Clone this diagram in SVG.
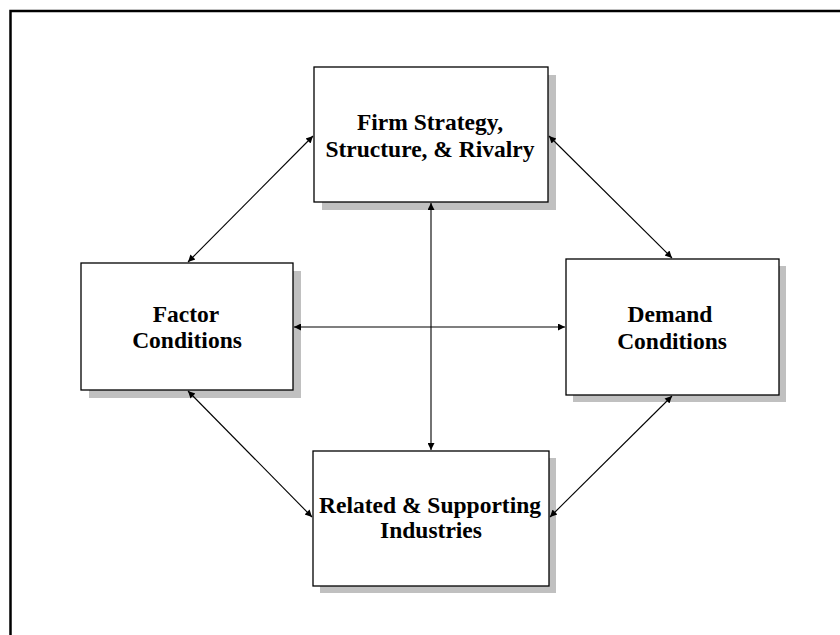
<svg xmlns="http://www.w3.org/2000/svg" width="840" height="635" viewBox="0 0 840 635">
<style>
.shadow{fill:#c0c0c0;stroke:none}
.box{fill:#fff;stroke:#000;stroke-width:1.3}
.lbl{font-family:"Liberation Serif","Times New Roman",serif;font-weight:bold;font-size:23.5px;fill:#000;text-anchor:middle}
.conn{stroke:#000;stroke-width:1.1;fill:none;marker-start:url(#ah);marker-end:url(#ah)}
</style>
<defs>
<marker id="ah" viewBox="0 0 10 10" refX="10" refY="5" markerWidth="9" markerHeight="7" markerUnits="userSpaceOnUse" orient="auto-start-reverse">
<path d="M0,0 L10,5 L0,10 z" fill="#000"/>
</marker>
</defs>
<rect width="840" height="635" fill="#fff"/>
<path d="M10.5,635 V11 H840" fill="none" stroke="#000" stroke-width="2.5"/>
<g id="firm">
<rect class="shadow" x="322" y="75" width="234" height="135"/>
<rect class="box" x="314" y="67" width="234" height="135"/>
<text class="lbl" x="430" y="130">Firm Strategy,</text>
<text class="lbl" x="430" y="157">Structure, &amp; Rivalry</text>
</g>
<g id="factor">
<rect class="shadow" x="89" y="271" width="212" height="127"/>
<rect class="box" x="81" y="263" width="212" height="127"/>
<text class="lbl" x="186" y="322">Factor</text>
<text class="lbl" x="187" y="348">Conditions</text>
</g>
<g id="demand">
<rect class="shadow" x="573" y="266" width="213" height="136"/>
<rect class="box" x="566" y="259" width="213" height="136"/>
<text class="lbl" x="670" y="322">Demand</text>
<text class="lbl" x="672" y="349">Conditions</text>
</g>
<g id="related">
<rect class="shadow" x="320" y="458" width="236" height="135"/>
<rect class="box" x="313" y="451" width="236" height="135"/>
<text class="lbl" x="430" y="513">Related &amp; Supporting</text>
<text class="lbl" x="431" y="538">Industries</text>
</g>
<g id="connectors">
<line class="conn" x1="431" y1="203" x2="431" y2="450"/>
<line class="conn" x1="294" y1="327" x2="565" y2="327"/>
<line class="conn" x1="188" y1="262" x2="313" y2="136"/>
<line class="conn" x1="549" y1="136" x2="672" y2="258"/>
<line class="conn" x1="188" y1="391" x2="312" y2="517"/>
<line class="conn" x1="672" y1="396" x2="550" y2="517"/>
</g>
</svg>
